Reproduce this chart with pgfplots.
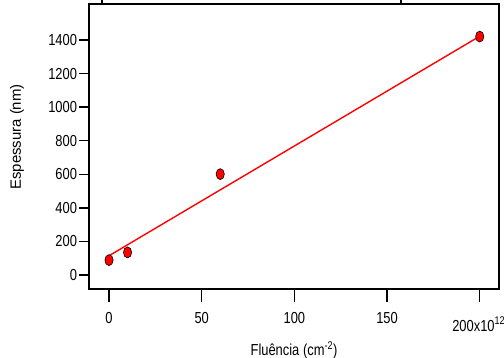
\documentclass[border=0pt]{standalone}
\usepackage{fontspec}
\setmainfont{Liberation Sans}[FakeStretch=0.81]
\newfontfamily\ylfont{Liberation Sans}
\usepackage{pgfplots}
\usetikzlibrary{calc}
\pgfplotsset{compat=1.18}
\begin{document}
\begin{tikzpicture}
\begin{axis}[
  name=ax,
  scale only axis,
  width=410bp, height=285bp,
  xmin=-10.8, xmax=210.4,
  ymin=-83, ymax=1614,
  axis line style={line width=1.3pt, black},
  tick align=outside,
  xtick={0,50,100,150},
  xticklabels={0,50,100,150},
  extra x ticks={200},
  extra x tick labels={200x10\textsuperscript{12}},
  extra x tick style={xticklabel style={yshift=-5bp, xshift=-1bp}, xtick style={/pgfplots/major tick length=13bp}},
  ytick={0,200,400,600,800,1000,1200,1400},
  xtick pos=bottom, ytick pos=left,
  major tick length=9.5bp,
  tick style={line width=1.3pt, black},
  xtick style={/pgfplots/major tick length=13bp},
  /pgf/number format/assume math mode=true,
  /pgf/number format/set thousands separator={},
  tick label style={font=\fontsize{16}{18}\selectfont},
  xticklabel style={yshift=-10bp},
  yticklabel style={xshift=1bp},
  scaled ticks=false,
  xlabel={Fluência (cm\textsuperscript{-2})},
  ylabel={\ylfont Espessura (nm)},
  every axis x label/.style={at={(rel axis cs:0.5,0)}, anchor=center, yshift=-61bp, font=\fontsize{16}{18}\selectfont},
  every axis y label/.style={at={($(rel axis cs:0,0.5)+(-72bp,9.5bp)$)}, anchor=center, rotate=90, font=\fontsize{15}{17}\selectfont},
  clip=false,
]
\addplot[red, line width=1.4pt, no marks] coordinates {(0,115) (200,1422)};
\addplot[only marks, mark=*, mark size=5.5bp, mark options={xscale=0.75, fill=red, draw=black, line width=0.6pt}]
  coordinates {(0,89) (10,135) (60,601) (200,1420)};
\end{axis}
\draw[line width=1.3pt] ($(ax.north west)!0.032!(ax.north east)$) -- ++(0,4bp);
\draw[line width=1.3pt] ($(ax.north west)!0.761!(ax.north east)$) -- ++(0,4bp);
\pgfresetboundingbox
\path (ax.south west) ++(-89bp,-69bp) coordinate (bl);
\path (ax.north east) ++(5bp,4bp) coordinate (tr);
\useasboundingbox (bl) rectangle (tr);
\end{tikzpicture}
\end{document}
